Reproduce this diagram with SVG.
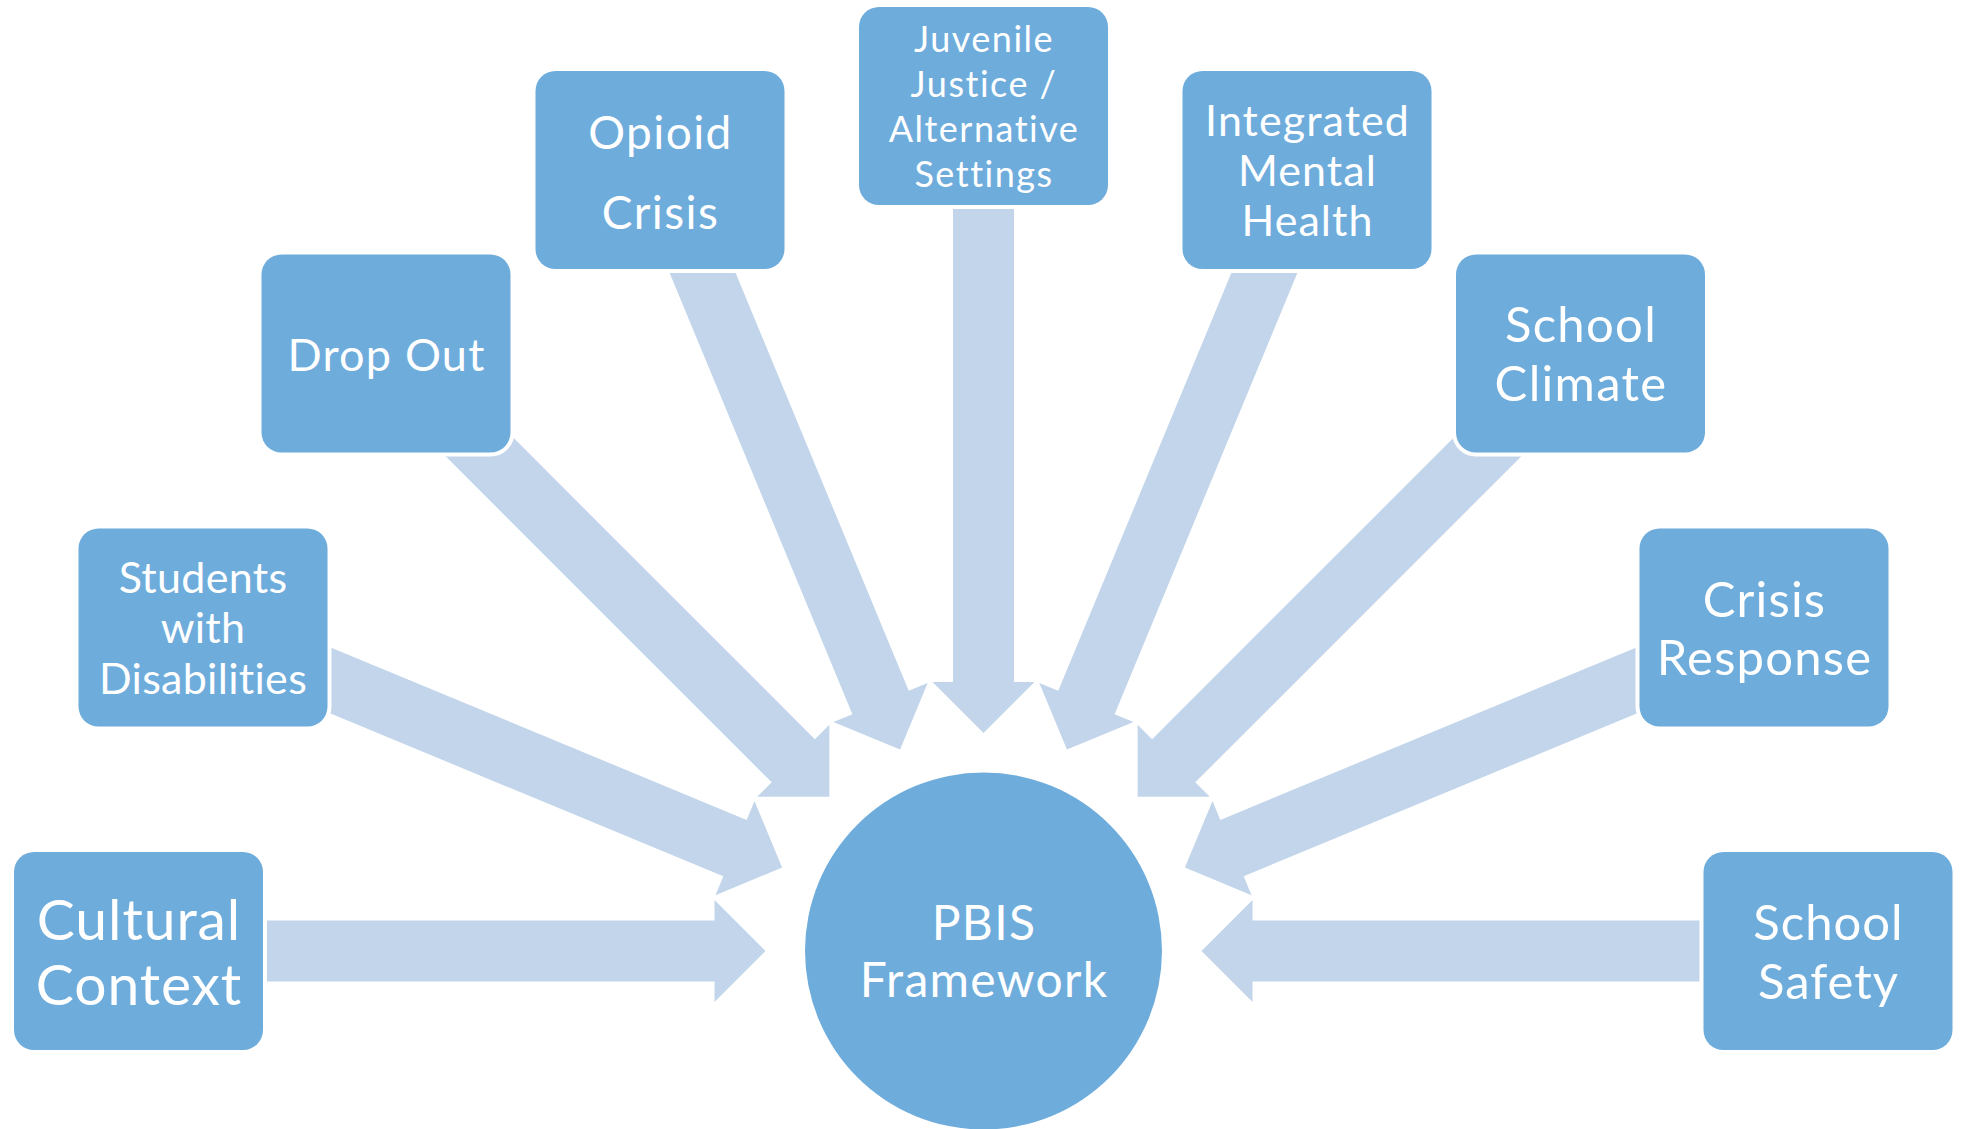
<svg xmlns="http://www.w3.org/2000/svg" xmlns:xlink="http://www.w3.org/1999/xlink" width="1962" height="1129" viewBox="0 0 1962 1129">
<style>
.box{fill:#6EACDC;stroke:#FFFFFF;stroke-width:8;paint-order:stroke}
.arrow{fill:#C2D5EB}
text{fill:#FFFFFF;font-family:Lato,"Open Sans","Liberation Sans",sans-serif;text-anchor:middle}
</style>
<defs>
<path id="arr" d="M218,0 L269,-51 L269,-30.5 L845,-30.5 L845,30.5 L269,30.5 L269,51 Z"/>
</defs>
<rect width="1962" height="1129" fill="#FFFFFF"/>
<g id="connectors" class="arrow" transform="translate(983.5,951)">
<use xlink:href="#arr" transform="rotate(0)"/>
<use xlink:href="#arr" transform="rotate(-22.5)"/>
<use xlink:href="#arr" transform="rotate(-45)"/>
<use xlink:href="#arr" transform="rotate(-67.5)"/>
<use xlink:href="#arr" transform="rotate(-90)"/>
<use xlink:href="#arr" transform="rotate(-112.5)"/>
<use xlink:href="#arr" transform="rotate(-135)"/>
<use xlink:href="#arr" transform="rotate(-157.5)"/>
<use xlink:href="#arr" transform="rotate(-180)"/>
</g>
<g id="pbis">
<circle cx="983.5" cy="951" r="178.5" fill="#6EACDC"/>
<text font-size="48" letter-spacing="1.3" x="984" y="940">PBIS</text>
<text font-size="48" letter-spacing="1.3" x="984" y="997">Framework</text>
</g>
<g id="cultural-context">
<rect class="box" x="14" y="852" width="249" height="198" rx="20"/>
<text font-size="57" letter-spacing="0.9" x="139" y="940">Cultural</text>
<text font-size="57" letter-spacing="0.9" x="139" y="1005">Context</text>
</g>
<g id="students-with-disabilities">
<rect class="box" x="78.5" y="528.5" width="249" height="198" rx="20"/>
<text font-size="43" letter-spacing="0.3" x="203" y="593">Students</text>
<text font-size="43" letter-spacing="0.3" x="203" y="643">with</text>
<text font-size="43" letter-spacing="0.3" x="203" y="694">Disabilities</text>
</g>
<g id="drop-out">
<rect class="box" x="261.5" y="254.5" width="249" height="198" rx="20"/>
<text font-size="45" letter-spacing="1.2" x="386.5" y="371">Drop Out</text>
</g>
<g id="opioid-crisis">
<rect class="box" x="535.5" y="71" width="249" height="198" rx="20"/>
<text font-size="46" letter-spacing="1.4" x="660.5" y="149">Opioid</text>
<text font-size="46" letter-spacing="1.4" x="660.5" y="228.5">Crisis</text>
</g>
<g id="juvenile-justice">
<rect class="box" x="859" y="7" width="249" height="198" rx="20"/>
<text font-size="36" letter-spacing="1.5" x="984" y="52">Juvenile</text>
<text font-size="36" letter-spacing="1.5" x="984" y="97">Justice /</text>
<text font-size="36" letter-spacing="1.5" x="984" y="142">Alternative</text>
<text font-size="36" letter-spacing="1.5" x="984" y="187">Settings</text>
</g>
<g id="integrated-mental-health">
<rect class="box" x="1182.5" y="71" width="249" height="198" rx="20"/>
<text font-size="43" letter-spacing="1.05" x="1307.5" y="136">Integrated</text>
<text font-size="43" letter-spacing="1.05" x="1307.5" y="186">Mental</text>
<text font-size="43" letter-spacing="1.05" x="1307.5" y="236">Health</text>
</g>
<g id="school-climate">
<rect class="box" x="1456" y="254.5" width="249" height="198" rx="20"/>
<text font-size="49" letter-spacing="1.3" x="1581" y="342">School</text>
<text font-size="49" letter-spacing="1.3" x="1581" y="401">Climate</text>
</g>
<g id="crisis-response">
<rect class="box" x="1639.5" y="528.5" width="249" height="198" rx="20"/>
<text font-size="49" letter-spacing="1.2" x="1764.5" y="617">Crisis</text>
<text font-size="49" letter-spacing="1.2" x="1764.5" y="675">Response</text>
</g>
<g id="school-safety">
<rect class="box" x="1703.5" y="852" width="249" height="198" rx="20"/>
<text font-size="49" letter-spacing="1" x="1828.5" y="940">School</text>
<text font-size="49" letter-spacing="1" x="1828.5" y="998.5">Safety</text>
</g>
</svg>
